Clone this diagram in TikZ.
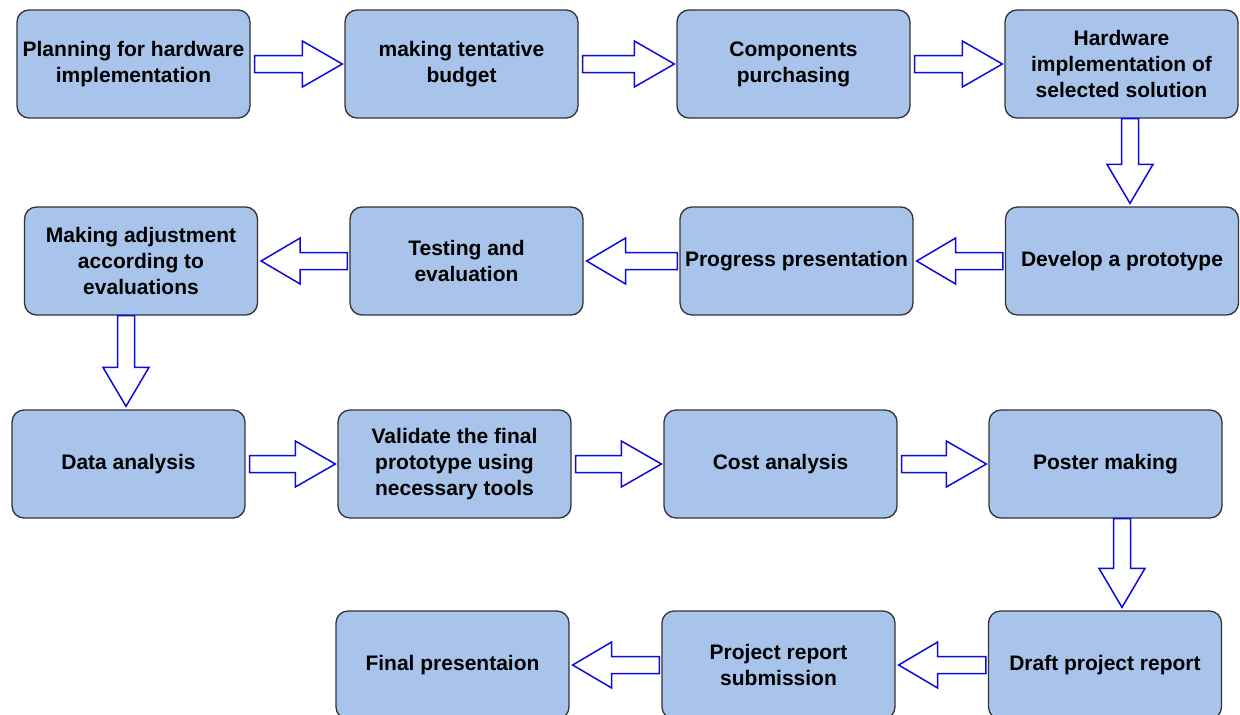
\documentclass[tikz,border=0pt]{standalone}
\usepackage{fontspec}
\setmainfont{Liberation Sans}
\usetikzlibrary{calc}
\definecolor{boxfill}{HTML}{A9C4EB}
\definecolor{boxline}{HTML}{333333}
\definecolor{arrblue}{RGB}{10,10,225}
\tikzset{
  stepbox/.style={draw=boxline, fill=boxfill, line width=1.3pt, rounded corners=12pt,
    minimum width=233pt, minimum height=108pt, inner sep=0pt, align=center,
    font=\fontsize{21}{26}\selectfont\bfseries},
  barrow/.style={draw=arrblue, fill=white, line width=1.5pt, line join=miter}
}
% right-pointing block arrow from #1 to #2
\newcommand\ArrR[2]{\draw[barrow] let \p1=(#1.east), \p2=(#2.west) in
  (\x1+4,\y1+8.5) -- (\x2-42,\y1+8.5) -- (\x2-42,\y1+23) -- (\x2-2,\y1) --
  (\x2-42,\y1-23) -- (\x2-42,\y1-8.5) -- (\x1+4,\y1-8.5) -- cycle;}
% left-pointing block arrow from #1 to #2
\newcommand\ArrL[2]{\draw[barrow] let \p1=(#1.west), \p2=(#2.east) in
  (\x1-2,\y1+8.5) -- (\x2+42,\y1+8.5) -- (\x2+42,\y1+23) -- (\x2+3,\y1) --
  (\x2+42,\y1-23) -- (\x2+42,\y1-8.5) -- (\x1-2,\y1-8.5) -- cycle;}
% downward block arrow from #1 to #2, horizontal offset #3
\newcommand\ArrD[3]{\draw[barrow] let \p1=($(#1.south)+(#3,0)$), \p2=(#2.north) in
  (\x1-8.5,\y1) -- (\x1-8.5,\y2+42) -- (\x1-23,\y2+42) -- (\x1,\y2+3) --
  (\x1+23,\y2+42) -- (\x1+8.5,\y2+42) -- (\x1+8.5,\y1) -- cycle;}
\begin{document}
\begin{tikzpicture}[x=1pt,y=1pt]
\useasboundingbox (0,0) rectangle (1240,-715);
% row 1
\node[stepbox] (n1) at (133.5,-64) {Planning for hardware\\implementation};
\node[stepbox] (n2) at (461.5,-64) {making tentative\\budget};
\node[stepbox] (n3) at (793.5,-64) {Components\\purchasing};
\node[stepbox] (n4) at (1121.5,-64) {Hardware\\implementation of\\selected solution};
% row 2
\node[stepbox] (n8) at (141,-261) {Making adjustment\\according to\\evaluations};
\node[stepbox] (n7) at (466.5,-261) {Testing and\\evaluation};
\node[stepbox] (n6) at (796.5,-261) {Progress presentation};
\node[stepbox] (n5) at (1122,-261) {Develop a prototype};
% row 3
\node[stepbox] (n9) at (128.5,-464) {Data analysis};
\node[stepbox] (n10) at (454.5,-464) {Validate the final\\prototype using\\necessary tools};
\node[stepbox] (n11) at (780.5,-464) {Cost analysis};
\node[stepbox] (n12) at (1105.5,-464) {Poster making};
% row 4
\node[stepbox] (n15) at (452.5,-665) {Final presentaion};
\node[stepbox] (n14) at (778.5,-665) {Project report\\submission};
\node[stepbox] (n13) at (1105,-665) {Draft project report};
% arrows
\ArrR{n1}{n2}
\ArrR{n2}{n3}
\ArrR{n3}{n4}
\ArrD{n4}{n5}{8.5}
\ArrL{n5}{n6}
\ArrL{n6}{n7}
\ArrL{n7}{n8}
\ArrD{n8}{n9}{-15}
\ArrR{n9}{n10}
\ArrR{n10}{n11}
\ArrR{n11}{n12}
\ArrD{n12}{n13}{16.5}
\ArrL{n13}{n14}
\ArrL{n14}{n15}
\end{tikzpicture}
\end{document}
